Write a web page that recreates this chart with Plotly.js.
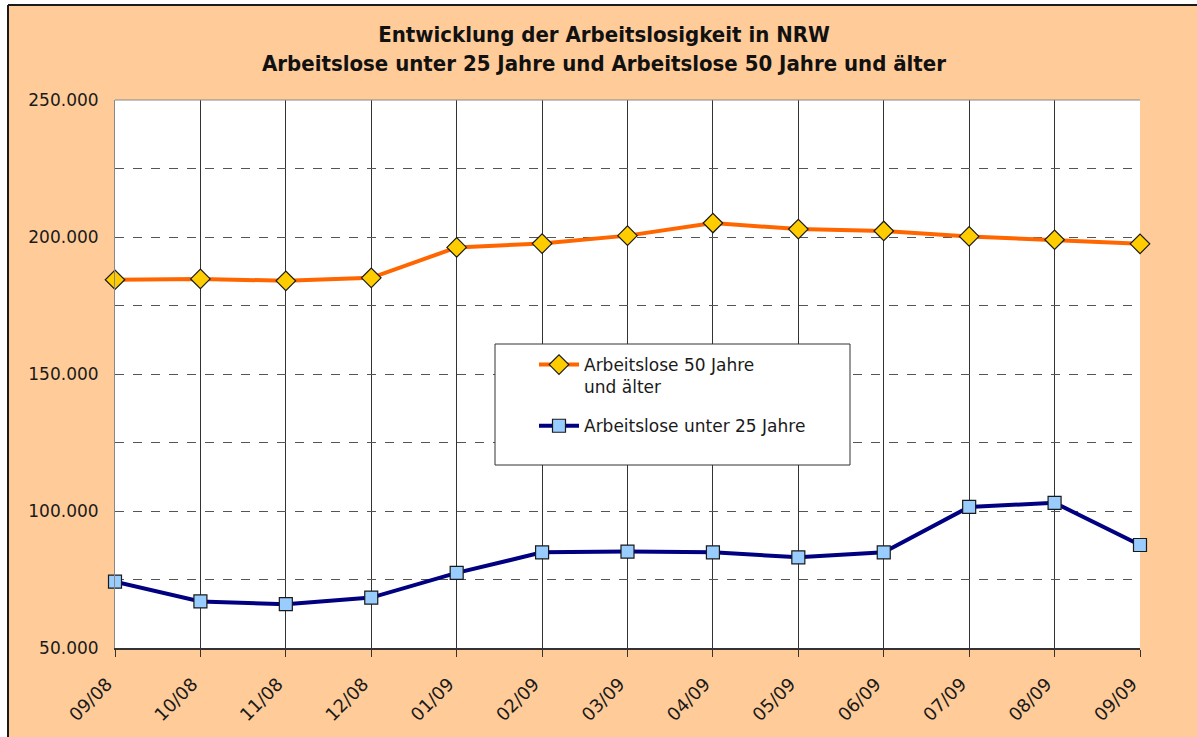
<!DOCTYPE html>
<html>
<head>
<meta charset="utf-8">
<script src="https://cdn.plot.ly/plotly-3.0.1.min.js"></script>
<style>
  html, body { margin: 0; padding: 0; background: #ffffff; }
  #chart { width: 1197px; height: 737px; }
</style>
</head>
<body>
<div id="chart"></div>
<script>
// ---- data ----
const months = ["09/08","10/08","11/08","12/08","01/09","02/09","03/09","04/09","05/09","06/09","07/09","08/09","09/09"];
const over50 = [184400, 184700, 184000, 185100, 196200, 197600, 200500, 205100, 202900, 202200, 200200, 199000, 197500];
const under25 = [74200, 67000, 66000, 68400, 77400, 84900, 85200, 84900, 83100, 84900, 101500, 103000, 87600];
const yTickVals = [50000, 75000, 100000, 125000, 150000, 175000, 200000, 225000, 250000];
const yTickText = ["50.000", "", "100.000", "", "150.000", "", "200.000", "", "250.000"];
const nameOver50 = "Arbeitslose 50 Jahre<br>und älter";
const nameUnder25 = "Arbeitslose unter 25 Jahre";
const titleText = "<b>Entwicklung der Arbeitslosigkeit in NRW<br>Arbeitslose unter 25 Jahre und Arbeitslose 50 Jahre und älter</b>";

// ---- layout geometry (pixels) ----
const W = 1197, H = 737;
const L = 115, R = 1140, T = 100, B = 648;
const px = x => (x - L) / (R - L);
const py = y => (B - y) / (B - T);

const FONT = "DejaVu Sans, Liberation Sans, sans-serif";

const traces = [
  {
    x: months, y: over50, name: nameOver50, type: "scatter", mode: "lines+markers",
    legendgroup: "a",
    line: { color: "#FF6600", width: 4 },
    marker: { symbol: "diamond", size: 15, color: "#FFCC00", line: { color: "#1a1a1a", width: 1.2 } },
    cliponaxis: false
  },
  {
    x: months, y: under25, name: nameUnder25, type: "scatter", mode: "lines+markers",
    legendgroup: "b",
    line: { color: "#000080", width: 4 },
    marker: { symbol: "square", size: 13, color: "#99CCFF", line: { color: "#1a1a1a", width: 1.2 } },
    cliponaxis: false
  }
];

const layout = {
  width: W, height: H,
  paper_bgcolor: "#FFCC99",
  plot_bgcolor: "#FFFFFF",
  margin: { l: L, r: W - R, t: T, b: H - B, pad: 0 },
  font: { family: FONT, color: "#1a1a1a", size: 17 },
  title: {
    text: titleText,
    font: { family: "DejaVu Sans Condensed, DejaVu Sans, sans-serif", size: 22, color: "#111111" },
    xref: "container", yref: "container",
    x: 604 / W, xanchor: "center",
    y: 1 - 42 / H, yanchor: "top"
  },
  showlegend: true,
  legend: {
    x: px(534), y: py(347), xanchor: "left", yanchor: "top",
    bgcolor: "rgba(0,0,0,0)", borderwidth: 0,
    font: { family: FONT, size: 17, color: "#1a1a1a" },
    valign: "top",
    itemwidth: 40,
    tracegroupgap: 14
  },
  xaxis: {
    type: "category",
    range: [0, months.length - 1],
    showgrid: true, gridcolor: "#333333", gridwidth: 1,
    showline: true, linecolor: "#333333", linewidth: 1.5,
    ticks: "outside", ticklen: 7, tickcolor: "#333333", tickwidth: 1,
    tickangle: -45, ticklabelstandoff: 10, ticklabelshift: -8,
    tickfont: { family: FONT, size: 18, color: "#1a1a1a" },
    zeroline: false, fixedrange: true
  },
  yaxis: {
    range: [50000, 250000],
    tickvals: yTickVals, ticktext: yTickText,
    showgrid: true, gridcolor: "#555555", gridwidth: 1, griddash: "dash",
    showline: true, linecolor: "#888888", linewidth: 1,
    ticks: "", ticklabelstandoff: 12,
    tickfont: { family: FONT, size: 17, color: "#1a1a1a" },
    zeroline: false, fixedrange: true
  },
  shapes: [
    // white strips outside the outer frame
    { type: "rect", xref: "paper", yref: "paper", x0: px(-5), x1: px(8), y0: py(745), y1: py(-5),
      fillcolor: "#FFFFFF", line: { width: 0 }, layer: "above" },
    { type: "rect", xref: "paper", yref: "paper", x0: px(-5), x1: px(1205), y0: py(5), y1: py(-5),
      fillcolor: "#FFFFFF", line: { width: 0 }, layer: "above" },
    // outer frame lines
    { type: "line", xref: "paper", yref: "paper", x0: px(8), x1: px(8), y0: py(745), y1: py(5),
      line: { color: "#1a1a1a", width: 2 }, layer: "above" },
    { type: "line", xref: "paper", yref: "paper", x0: px(8), x1: px(1205), y0: py(5), y1: py(5),
      line: { color: "#1a1a1a", width: 2 }, layer: "above" },
    // top border of plot area
    { type: "line", xref: "paper", yref: "paper", x0: 0, x1: 1, y0: 1, y1: 1,
      line: { color: "#888888", width: 1 }, layer: "above" },
    // legend box
    { type: "rect", xref: "paper", yref: "paper", x0: px(495), x1: px(850), y0: py(465), y1: py(344),
      fillcolor: "#FFFFFF", line: { color: "#333333", width: 1 }, layer: "above" }
  ]
};

Plotly.newPlot("chart", traces, layout, { displayModeBar: false, staticPlot: true });
</script>
</body>
</html>
